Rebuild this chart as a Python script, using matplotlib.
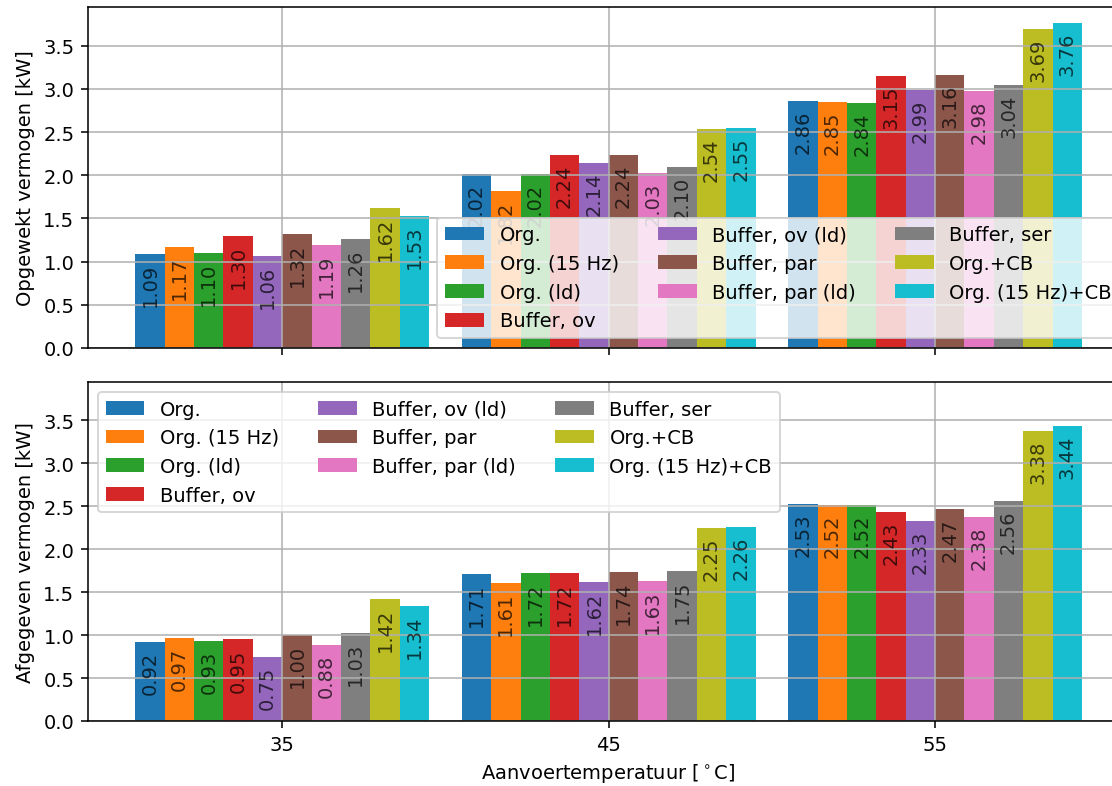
import matplotlib
matplotlib.use("Agg")
import matplotlib.pyplot as plt
import numpy as np

temps = [35, 45, 55]
series = ["Org.", "Org. (15 Hz)", "Org. (ld)", "Buffer, ov", "Buffer, ov (ld)",
          "Buffer, par", "Buffer, par (ld)", "Buffer, ser", "Org.+CB", "Org. (15 Hz)+CB"]

# Opgewekt vermogen [kW], per series for 35, 45, 55
gen_org = [1.09, 2.02, 2.86]
gen_org15 = [1.17, 1.82, 2.85]
gen_orgld = [1.10, 2.02, 2.84]
gen_bufov = [1.30, 2.24, 3.15]
gen_bufovld = [1.06, 2.14, 2.99]
gen_bufpar = [1.32, 2.24, 3.16]
gen_bufparld = [1.19, 2.03, 2.98]
gen_bufser = [1.26, 2.10, 3.04]
gen_orgcb = [1.62, 2.54, 3.69]
gen_org15cb = [1.53, 2.55, 3.76]

# Afgegeven vermogen [kW]
del_org = [0.92, 1.71, 2.53]
del_org15 = [0.97, 1.61, 2.52]
del_orgld = [0.93, 1.72, 2.52]
del_bufov = [0.95, 1.72, 2.43]
del_bufovld = [0.75, 1.62, 2.33]
del_bufpar = [1.00, 1.74, 2.47]
del_bufparld = [0.88, 1.63, 2.38]
del_bufser = [1.03, 1.75, 2.56]
del_orgcb = [1.42, 2.25, 3.38]
del_org15cb = [1.34, 2.26, 3.44]

generated = [gen_org, gen_org15, gen_orgld, gen_bufov, gen_bufovld,
             gen_bufpar, gen_bufparld, gen_bufser, gen_orgcb, gen_org15cb]
delivered = [del_org, del_org15, del_orgld, del_bufov, del_bufovld,
             del_bufpar, del_bufparld, del_bufser, del_orgcb, del_org15cb]

W, H, DPI = 1112, 787, 140
fig = plt.figure(figsize=(W / DPI, H / DPI), dpi=DPI)
left = 88 / W
width = (1129.3 - 88) / W
ax1 = fig.add_axes([left, (H - 349) / H, width, 341 / H])
ax2 = fig.add_axes([left, (H - 722) / H, width, 339 / H], sharex=ax1, sharey=ax1)

colors = plt.rcParams['axes.prop_cycle'].by_key()['color']
bw = 0.9
n = len(series)
x = np.array(temps, dtype=float)

def draw(ax, data):
    for i, (name, vals) in enumerate(zip(series, data)):
        pos = x + (i - (n - 1) / 2) * bw
        bars = ax.bar(pos, vals, width=bw, color=colors[i % 10], label=name)
        for p, v in zip(pos, vals):
            ax.annotate(f"{v:.2f}", xy=(p, v), xytext=(0, -4.5),
                        textcoords='offset points', rotation=90,
                        ha='center', va='top', color='k', alpha=0.7,
                        fontsize=10)
    ax.grid(True)
    ax.set_xticks(temps)

draw(ax1, generated)
draw(ax2, delivered)

ax1.tick_params(labelbottom=False)
ax1.set_ylabel("Opgewekt vermogen [kW]")
ax2.set_ylabel("Afgegeven vermogen [kW]")
ax2.set_xlabel(r"Aanvoertemperatuur [$^\circ$C]")

ax1.legend(loc='lower right', ncol=3)
ax2.legend(loc='upper left', ncol=3)

fig.savefig("out.png", dpi=DPI)
